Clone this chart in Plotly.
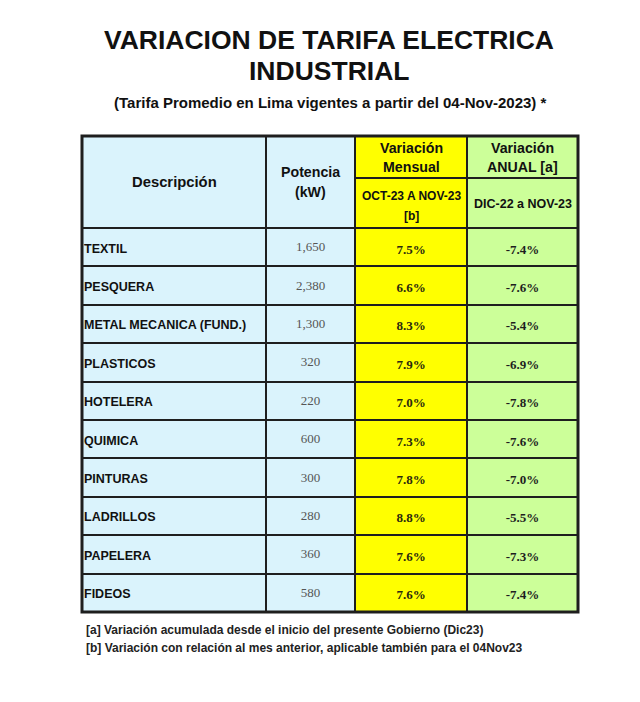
import plotly.graph_objects as go

sectors = ["TEXTIL", "PESQUERA", "METAL MECANICA (FUND.)", "PLASTICOS", "HOTELERA",
           "QUIMICA", "PINTURAS", "LADRILLOS", "PAPELERA", "FIDEOS"]
potencia = ["1,650", "2,380", "1,300", "320", "220", "600", "300", "280", "360", "580"]
var_mensual = ["7.5%", "6.6%", "8.3%", "7.9%", "7.0%", "7.3%", "7.8%", "8.8%", "7.6%", "7.6%"]
var_anual = ["-7.4%", "-7.6%", "-5.4%", "-6.9%", "-7.8%", "-7.6%", "-7.0%", "-5.5%", "-7.3%", "-7.4%"]

title_lines = ["VARIACION DE TARIFA ELECTRICA", "INDUSTRIAL"]
subtitle = "(Tarifa Promedio en Lima vigentes a partir del 04-Nov-2023) *"
footnotes = ["[a] Variación acumulada desde el inicio del presente Gobierno (Dic23)",
             "[b] Variación con relación al mes anterior, aplicable también para el 04Nov23"]

# page body has an 8px default margin -> figure is drawn 8px in from the window edge
OFF = 8
W, H = 640 - OFF, 702 - OFF

def px(x):
    return (x - OFF) / W

def py(y):
    return 1 - (y - OFF) / H

col_edges = [82, 266, 355, 467, 578]
top, head_bottom, bottom = 136, 228, 612
sub_line = 178
row_h = (bottom - head_bottom) / len(sectors)
text_dy = 5.5      # vertical centring of cell text
text_dx = 6        # tighter left padding for the description column

BLUE, YELLOW, GREEN = "#daf3fc", "#ffff00", "#ccff99"
fills = [BLUE, BLUE, YELLOW, GREEN]
LINE = "#1e1e1e"
CLEAR = "rgba(0,0,0,0)"

widths = [col_edges[i + 1] - col_edges[i] for i in range(4)]

# table 1: cell backgrounds and borders
grid = go.Table(
    domain=dict(x=[px(col_edges[0]), px(col_edges[-1])], y=[py(bottom + 1), py(top)]),
    columnwidth=widths,
    header=dict(values=["", "", "", ""], fill_color=fills,
                line=dict(color=LINE, width=2), height=head_bottom - top),
    cells=dict(values=[["" for _ in sectors]] * 4, fill_color=fills,
               line=dict(color=LINE, width=2), height=row_h),
)

# table 2: the values, transparent, laid over the grid
values = go.Table(
    domain=dict(x=[px(col_edges[0] - text_dx), px(col_edges[-1])],
                y=[py(bottom + text_dy + 1), py(top)]),
    columnwidth=[widths[0] + text_dx] + widths[1:],
    header=dict(values=["", "", "", ""], fill_color=CLEAR,
                line=dict(color=CLEAR, width=0), height=head_bottom - top + text_dy),
    cells=dict(
        values=[["<b>" + s + "</b>" for s in sectors], potencia,
                ["<b>" + v + "</b>" for v in var_mensual],
                ["<b>" + v + "</b>" for v in var_anual]],
        fill_color=CLEAR,
        line=dict(color=CLEAR, width=0),
        align=["left", "center", "center", "center"],
        font=dict(family=["Liberation Sans", "Liberation Serif", "Liberation Serif", "Liberation Serif"],
                  size=[12.5, 13, 13, 13], color=["#111111", "#555555", "#2a2a10", "#1e1e1e"]),
        height=row_h,
    ),
)

fig = go.Figure([grid, values])

# heavier outer frame
fig.add_shape(type="rect", xref="paper", yref="paper",
              x0=px(col_edges[0]), x1=px(col_edges[-1]), y0=py(bottom), y1=py(top),
              line=dict(color=LINE, width=3), fillcolor=CLEAR)

# sub-header divider in the two "Variación" columns
fig.add_shape(type="line", xref="paper", yref="paper",
              x0=px(col_edges[2]), x1=px(col_edges[4]), y0=py(sub_line), y1=py(sub_line),
              line=dict(color=LINE, width=2))

# header labels: (text, column center, y, size)
cc = [(col_edges[i] + col_edges[i + 1]) / 2 for i in range(4)]
header_labels = [
    ("Descripción", cc[0], 182, 14.8),
    ("Potencia", cc[1], 172, 14.2),
    ("(kW)", cc[1], 192, 14.2),
    ("Variación", cc[2], 148, 14.2),
    ("Mensual", cc[2], 167, 14.2),
    ("OCT-23 A NOV-23", cc[2], 196, 12),
    ("[b]", cc[2], 216, 12),
    ("Variación", cc[3], 148, 14.2),
    ("ANUAL [a]", cc[3], 167, 14.2),
    ("DIC-22 a NOV-23", cc[3], 204, 12.5),
]
for t, x, y, s in header_labels:
    fig.add_annotation(text="<b>" + t + "</b>", x=px(x), y=py(y), xref="paper", yref="paper",
                       showarrow=False, xanchor="center", yanchor="middle",
                       font=dict(family="Liberation Sans", size=s, color="#111111"))

# titles
for t, y in zip(title_lines, [40, 71]):
    fig.add_annotation(text="<b>" + t + "</b>", x=px(329), y=py(y), xref="paper", yref="paper",
                       showarrow=False, xanchor="center", yanchor="middle",
                       font=dict(family="Liberation Sans", size=26.5, color="#111111"))
fig.add_annotation(text="<b>" + subtitle + "</b>", x=px(331), y=py(103), xref="paper", yref="paper",
                   showarrow=False, xanchor="center", yanchor="middle",
                   font=dict(family="Liberation Sans", size=15, color="#111111"))

for t, y in zip(footnotes, [630, 648]):
    fig.add_annotation(text="<b>" + t + "</b>", x=px(84), y=py(y), xref="paper", yref="paper",
                       showarrow=False, xanchor="left", yanchor="middle",
                       font=dict(family="Liberation Sans", size=12, color="#222222"))

fig.update_layout(width=W, height=H, margin=dict(l=0, r=0, t=0, b=0),
                  paper_bgcolor="white", plot_bgcolor="white")
fig.write_html("out.html")
